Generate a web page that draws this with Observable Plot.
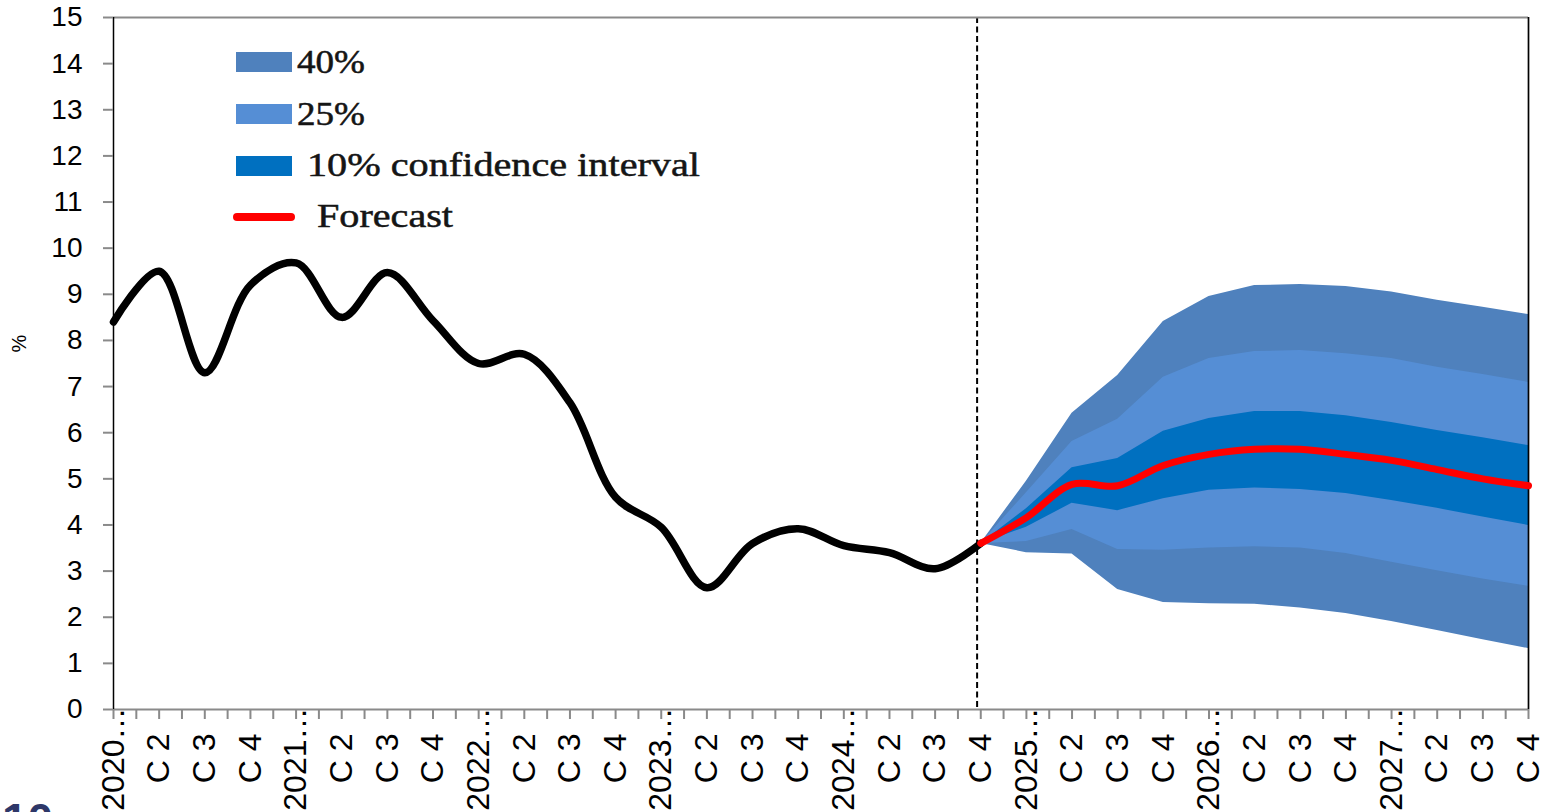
<!DOCTYPE html>
<html>
<head>
<meta charset="utf-8">
<script src="https://cdn.jsdelivr.net/npm/d3@7"></script>
<script src="https://cdn.jsdelivr.net/npm/@observablehq/plot@0.6"></script>
<style>
  html, body { margin: 0; padding: 0; background: #fff; overflow: hidden; width: 1547px; height: 812px; }
  #wrap { position: relative; width: 1547px; height: 812px; }
  #wrap > svg { position: absolute; left: 0; top: 0; }
</style>
</head>
<body>
<div id="wrap"></div>
<script>
// ---- Data ----
const quarterLabels = [
  "2020…", "C 2", "C 3", "C 4",
  "2021…", "C 2", "C 3", "C 4",
  "2022…", "C 2", "C 3", "C 4",
  "2023…", "C 2", "C 3", "C 4",
  "2024…", "C 2", "C 3", "C 4",
  "2025…", "C 2", "C 3", "C 4",
  "2026…", "C 2", "C 3", "C 4",
  "2027…", "C 2", "C 3", "C 4"
];
const yTicks = [0, 1, 2, 3, 4, 5, 6, 7, 8, 9, 10, 11, 12, 13, 14, 15];

// Historical series (quarter index 0..19)
const historyValues = [8.4, 9.5, 7.3, 9.2, 9.68, 8.5, 9.47, 8.43, 7.5, 7.7,
                       6.65, 4.6, 3.95, 2.64, 3.6, 3.92, 3.55, 3.4, 3.05, 3.6];

// Forecast (quarter index 19..31)
const forecastStart = 19;
const forecastValues = [3.6, 4.16, 4.88, 4.85, 5.29, 5.53, 5.64, 5.64, 5.53, 5.4, 5.2, 5.0, 4.85];
const upper40 = [3.6, 4.95, 6.42, 7.24, 8.41, 8.95, 9.19, 9.21, 9.17, 9.05, 8.87, 8.72, 8.56];
const upper25 = [3.6, 4.7, 5.81, 6.29, 7.2, 7.61, 7.76, 7.78, 7.71, 7.61, 7.42, 7.26, 7.09];
const upper10 = [3.6, 4.35, 5.24, 5.44, 6.03, 6.31, 6.46, 6.46, 6.37, 6.22, 6.05, 5.89, 5.72];
const lower10 = [3.6, 3.95, 4.47, 4.31, 4.57, 4.75, 4.8, 4.77, 4.68, 4.53, 4.36, 4.17, 3.99];
const lower25 = [3.6, 3.64, 3.9, 3.47, 3.45, 3.5, 3.53, 3.5, 3.38, 3.19, 3.01, 2.83, 2.67];
const lower40 = [3.6, 3.4, 3.37, 2.6, 2.32, 2.29, 2.28, 2.2, 2.08, 1.91, 1.71, 1.51, 1.32];

const dividerX = 18.92; // dashed vertical line (start of forecast)

const legendLabels = ["40%", "25%", "10% confidence interval", "Forecast"];
const legendColors = ["#4F81BD", "#558ED5", "#0070C0", "#FF0000"];

const pageNumber = "10";

// ---- Build tables ----
const hist = historyValues.map((v, i) => ({ i, v }));
const fc = forecastValues.map((v, k) => ({
  i: forecastStart + k, v,
  u40: upper40[k], u25: upper25[k], u10: upper10[k],
  l10: lower10[k], l25: lower25[k], l40: lower40[k]
}));
const labelRows = quarterLabels.map((t, i) => ({ i, t }));
const yearRows = labelRows.filter(d => !d.t.startsWith("C"));
const qRows = labelRows.filter(d => d.t.startsWith("C"));
const xTicks = d3.range(0, quarterLabels.length - 0.5, 0.5);

const W = 1547, H = 812;

const chart = Plot.plot({
  width: W,
  height: H,
  marginLeft: 113,
  marginRight: 19,
  marginTop: 17,
  marginBottom: 103,
  style: { fontFamily: "'Liberation Sans', Arial, sans-serif", color: "black", background: "transparent" },
  x: { type: "linear", domain: [0, quarterLabels.length - 1], axis: null },
  y: { type: "linear", domain: [0, 15], axis: null },
  marks: [
    Plot.ruleX([dividerX], { stroke: "black", strokeWidth: 2, strokeDasharray: "6,3.5" }),
    Plot.areaY(fc, { x: "i", y1: "l40", y2: "u40", fill: "#4F81BD", curve: "linear" }),
    Plot.areaY(fc, { x: "i", y1: "l25", y2: "u25", fill: "#558ED5", curve: "linear" }),
    Plot.areaY(fc, { x: "i", y1: "l10", y2: "u10", fill: "#0070C0", curve: "linear" }),
    Plot.ruleY([15], { stroke: "#8a8a8a", strokeWidth: 2 }),
    Plot.ruleY([0], { stroke: "#8a8a8a", strokeWidth: 2 }),
    Plot.ruleX([quarterLabels.length - 1], { stroke: "black", strokeWidth: 1.7 }),
    Plot.ruleX([0], { stroke: "black", strokeWidth: 1.5 }),
    Plot.axisY(yTicks, {
      tickSize: 10, tickPadding: 21, fontSize: 28,
      stroke: "#8a8a8a", strokeWidth: 2, fill: "black", label: null
    }),
    Plot.axisX(xTicks, {
      tickSize: 10, tickFormat: () => "", stroke: "#8a8a8a", strokeWidth: 2, label: null
    }),
    Plot.line(hist, { x: "i", y: "v", stroke: "black", strokeWidth: 7.5, curve: "catmull-rom" }),
    Plot.line(fc, { x: "i", y: "v", stroke: "#FF0000", strokeWidth: 7, curve: "catmull-rom" }),
    Plot.text(qRows, {
      x: "i", text: "t", frameAnchor: "bottom", rotate: -90, textAnchor: "end",
      lineAnchor: "middle", dy: 24, fontSize: 32, fill: "black"
    }),
    Plot.text(yearRows, {
      x: "i", text: "t", frameAnchor: "bottom", rotate: -90, textAnchor: "end",
      lineAnchor: "middle", dy: -2, fontSize: 32, fill: "black"
    }),
    Plot.text(["%"], {
      text: d => d, frameAnchor: "left", dx: -94, dy: -11, rotate: -90,
      fontSize: 20, fill: "black"
    })
  ]
});

const wrap = document.getElementById("wrap");
wrap.appendChild(chart);

// ---- Legend overlay (inside plot area, top-left) ----
const ov = d3.select(wrap).append("svg")
  .attr("width", W).attr("height", H)
  .style("pointer-events", "none");

const lg = ov.append("g")
  .attr("font-family", "'Liberation Serif', 'Times New Roman', serif")
  .attr("font-size", 33).attr("fill", "#151515")
  .attr("stroke", "#151515").attr("stroke-width", 0.5);
const rowsY = [52, 104, 156];
const textX = [297, 297, 307, 317];
const textW = [68, 68, 393, 136];
const baseY = [73, 125, 176, 227];
legendLabels.forEach((lab, k) => {
  if (k < 3) {
    lg.append("rect").attr("x", 236).attr("y", rowsY[k]).attr("width", 56).attr("height", 20)
      .attr("fill", legendColors[k]).attr("stroke", "none");
  } else {
    lg.append("line").attr("x1", 237).attr("x2", 291).attr("y1", 217).attr("y2", 217)
      .attr("stroke", legendColors[k]).attr("stroke-width", 8).attr("stroke-linecap", "round");
  }
  lg.append("text").attr("x", textX[k]).attr("y", baseY[k])
    .attr("textLength", textW[k]).attr("lengthAdjust", "spacingAndGlyphs")
    .text(lab);
});

// Page number, cut off at the bottom-left corner as in the reference
ov.append("text").attr("x", 2).attr("y", 836)
  .attr("font-family", "'Liberation Sans', Arial, sans-serif")
  .attr("font-weight", "bold").attr("font-size", 46).attr("fill", "#2E3768")
  .text(pageNumber);
</script>
</body>
</html>
